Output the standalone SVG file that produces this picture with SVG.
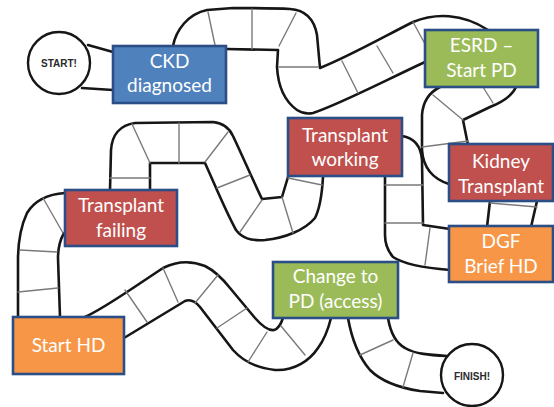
<svg xmlns="http://www.w3.org/2000/svg" width="554" height="407" viewBox="0 0 554 407">
<style>
.edge{fill:none;stroke:#161616;stroke-width:2.6;stroke-linecap:round;stroke-linejoin:round}
.div{fill:none;stroke:#7a7a7a;stroke-width:1.4;stroke-linecap:round}
.box{stroke:#2b4e86;stroke-width:2.6}
.blue{fill:#4f81bd}.red{fill:#c0504d}.green{fill:#9bbb59}.orange{fill:#f79646}
.lbl{font-family:Lato,"Liberation Sans",sans-serif;font-size:19px;fill:#fff;text-anchor:middle}
.circ{fill:#fff;stroke:#161616;stroke-width:2.4}
.ctext{font-family:"Liberation Sans",Arial,sans-serif;font-weight:bold;font-size:10px;fill:#2a2a2a;text-anchor:middle}
</style>
<rect width="554" height="407" fill="#fff"/>
<g id="connectors">
  <!-- track edges -->
  <path class="edge" d="M88,45 L113,52 M82,88 L113,90"/>
  <path class="edge" d="M173,46 C176,30 188,14 207,10 L233,8 C255,8 275,8 290,9 C305,10 314,18 317,35 L320,68 C350,56 385,36 413,22 C435,13 462,13 488,30"/>
  <path class="edge" d="M226,49 L278,50 L277,67 C278,85 283,100 297,110 C303,114 308,114 313,113 C340,104 380,83 425,62"/>
  <path class="edge" d="M440,87 C430,92 423,100 422,115 L422,150 C423,165 430,178 449,184"/>
  <path class="edge" d="M516,87 C512,96 500,103 490,107 L463,120 L468,145"/>
  <path class="edge" d="M490,201 L487,227 M537,201 L531,227"/>
  <path class="edge" d="M450,270 C425,268 405,265 393,257 C387,250 385,243 385,235 L385,176"/>
  <path class="edge" d="M402,136 C414,138 421,146 422,160 L423,225 L450,229"/>
  <path class="edge" d="M288,177 L282,197 L262,199 C252,178 242,155 233,136 C229,127 222,123 213,122 L135,123 C120,125 112,135 111,150 L110,190"/>
  <path class="edge" d="M150,190 L150,163 L205,163 C215,185 225,210 236,230 C242,238 250,241 265,240 C285,238 305,230 315,218 C320,208 322,195 323,177"/>
  <path class="edge" d="M65,193 C50,194 35,200 27,213 C20,228 18,245 18,260 L18,317"/>
  <path class="edge" d="M64,233 C60,240 58,248 58,258 L60,317"/>
  <path class="edge" d="M85,317 C100,310 115,300 133,288 L163,268 C175,262 190,260 205,266 C215,271 222,278 230,288 L255,318 C262,326 268,331 274,330 C278,329 281,324 283,318"/>
  <path class="edge" d="M124,338 L185,301 C190,299 195,301 200,307 L233,350 C242,360 255,368 275,370 C295,371 310,360 318,348 C324,340 328,330 331,318"/>
  <path class="edge" d="M348,318 C351,335 357,355 370,370 C382,382 400,388 420,391 L443,393"/>
  <path class="edge" d="M388,318 C390,330 394,342 405,348 C415,354 430,355 447,356"/>
  <!-- cell dividers -->
  <path class="div" d="M208,12 L215,45 M252,9 L252,49 M279,46 L296,13 M279,67 L318,67 M342,61 L358,93 M377,46 L393,73 M413,22 L425,44 M483,87 L493,103 M433,95 L463,120 M422,147 L468,141 M490,203 L537,207 M385,185 L423,185 M385,223 L423,223 M430,228 L425,265 M288,178 L322,185 M282,197 L293,233 M262,200 L240,232 M217,188 L250,175 M205,162 L228,132 M179,123 L179,163 M132,124 L150,163 M110,178 L150,178 M43,198 L63,233 M20,250 L57,252 M18,292 L58,288 M125,290 L147,322 M163,268 L178,302 M218,275 L195,303 M247,308 L217,328 M267,332 L248,362 M281,326 L305,355 M360,355 L393,340 M413,353 L403,387"/>
</g>
<g id="start"><circle class="circ" cx="59" cy="63" r="31"/><text class="ctext" x="59" y="67">START!</text></g>
<g id="finish"><circle class="circ" cx="472" cy="375" r="31"/><text class="ctext" x="472" y="380">FINISH!</text></g>
<g id="ckd"><rect class="box blue" x="113" y="46" width="113" height="57"/><text class="lbl" x="169.5" y="68">CKD</text><text class="lbl" x="169.5" y="92">diagnosed</text></g>
<g id="esrd"><rect class="box green" x="425" y="30" width="113" height="57"/><text class="lbl" x="481.5" y="52">ESRD –</text><text class="lbl" x="481.5" y="77">Start PD</text></g>
<g id="twork"><rect class="box red" x="288" y="118" width="114" height="58"/><text class="lbl" x="345" y="142">Transplant</text><text class="lbl" x="345" y="166">working</text></g>
<g id="kidney"><rect class="box red" x="449" y="144" width="104" height="57"/><text class="lbl" x="501" y="168">Kidney</text><text class="lbl" x="501" y="193">Transplant</text></g>
<g id="dgf"><rect class="box orange" x="449" y="226" width="104" height="56"/><text class="lbl" x="501" y="248">DGF</text><text class="lbl" x="501" y="273">Brief HD</text></g>
<g id="tfail"><rect class="box red" x="65" y="190" width="112" height="56"/><text class="lbl" x="121" y="212">Transplant</text><text class="lbl" x="121" y="237">failing</text></g>
<g id="change"><rect class="box green" x="273" y="262" width="125" height="56"/><text class="lbl" x="335.5" y="283">Change to</text><text class="lbl" x="335.5" y="308">PD (access)</text></g>
<g id="starthd"><rect class="box orange" x="13" y="317" width="111" height="57"/><text class="lbl" x="68.5" y="352">Start HD</text></g>
</svg>
